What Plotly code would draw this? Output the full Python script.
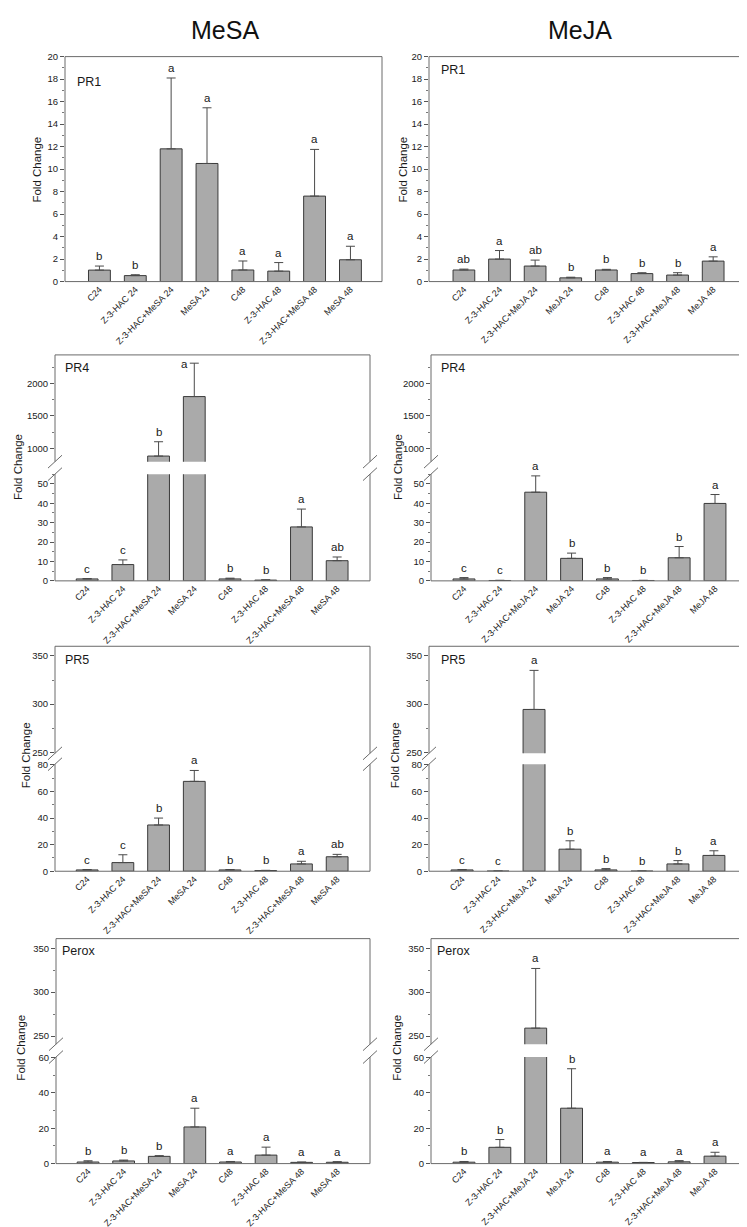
import plotly.graph_objects as go

W, H = 747, 1227
FONT = "Liberation Sans, Arial, sans-serif"

# ---------------- data ----------------
cats_mesa = ["C24", "Z-3-HAC 24", "Z-3-HAC+MeSA 24", "MeSA 24", "C48", "Z-3-HAC 48", "Z-3-HAC+MeSA 48", "MeSA 48"]
cats_meja = ["C24", "Z-3-HAC 24", "Z-3-HAC+MeJA 24", "MeJA 24", "C48", "Z-3-HAC 48", "Z-3-HAC+MeJA 48", "MeJA 48"]

pr1_mesa_mean = [1.02, 0.53, 11.8, 10.5, 1.03, 0.93, 7.6, 1.94]
pr1_mesa_err = [0.36, 0.08, 6.3, 4.95, 0.8, 0.76, 4.15, 1.2]
pr1_mesa_sig = ["b", "b", "a", "a", "a", "a", "a", "a"]

pr1_meja_mean = [1.03, 2.0, 1.38, 0.33, 1.03, 0.71, 0.58, 1.82]
pr1_meja_err = [0.08, 0.76, 0.53, 0.06, 0.06, 0.08, 0.21, 0.38]
pr1_meja_sig = ["ab", "a", "ab", "b", "b", "b", "b", "a"]

pr4_mesa_mean = [1.0, 8.4, 883, 1797, 1.0, 0.4, 27.8, 10.4]
pr4_mesa_err = [0.2, 2.4, 220, 513, 0.4, 0.15, 9.2, 1.9]
pr4_mesa_sig = ["c", "c", "b", "a", "b", "b", "a", "ab"]

pr4_meja_mean = [1.0, 0.2, 45.7, 11.6, 1.0, 0.2, 11.9, 39.9]
pr4_meja_err = [0.7, 0.1, 8.4, 2.7, 0.7, 0.1, 5.8, 4.6]
pr4_meja_sig = ["c", "c", "a", "b", "b", "b", "b", "a"]

pr5_mesa_mean = [1.0, 6.5, 34.8, 67.6, 1.0, 0.5, 5.5, 10.9]
pr5_mesa_err = [0.3, 5.9, 5.2, 8.2, 0.3, 0.2, 2.0, 1.8]
pr5_mesa_sig = ["c", "c", "b", "a", "b", "b", "a", "ab"]

pr5_meja_mean = [1.0, 0.1, 294.5, 16.6, 1.0, 0.1, 5.5, 11.9]
pr5_meja_err = [0.3, 0.05, 40.5, 6.3, 1.0, 0.05, 2.5, 3.5]
pr5_meja_sig = ["c", "c", "a", "b", "b", "b", "b", "a"]

perox_mesa_mean = [0.9, 1.5, 4.1, 20.7, 0.9, 4.8, 0.7, 0.75]
perox_mesa_err = [0.7, 0.5, 0.4, 10.6, 0.3, 4.5, 0.2, 0.35]
perox_mesa_sig = ["b", "b", "b", "a", "a", "a", "a", "a"]

perox_meja_mean = [0.8, 9.2, 259, 31.3, 0.8, 0.6, 1.0, 4.2]
perox_meja_err = [0.4, 4.4, 68, 22.3, 0.4, 0.1, 0.7, 2.2]
perox_meja_sig = ["b", "b", "a", "b", "a", "a", "a", "a"]

column_titles = ["MeSA", "MeJA"]
gene_labels = ["PR1", "PR4", "PR5", "Perox"]
y_title = "Fold Change"

# ---------------- layout (pixel geometry) ----------------
# box: (left, right, top, bottom); brk: (upper-bottom, lower-top)
panels = [
    dict(cats=cats_mesa, mean=pr1_mesa_mean, err=pr1_mesa_err, sig=pr1_mesa_sig, label=gene_labels[0],
         box=(57, 374, 43, 270), brk=None, lo=(0, 20, 2, 1), hi=None, lab=(67, 69), yt=(29, 157), xr=(-0.96, 7.88)),
    dict(cats=cats_meja, mean=pr1_meja_mean, err=pr1_meja_err, sig=pr1_meja_sig, label=gene_labels[0],
         box=(421, 739, 43, 270), brk=None, lo=(0, 20, 2, 1), hi=None, lab=(431, 57), yt=(395, 157), xr=(-0.98, 7.95)),
    dict(cats=cats_mesa, mean=pr4_mesa_mean, err=pr4_mesa_err, sig=pr4_mesa_sig, label=gene_labels[1],
         box=(47, 362, 344, 572), brk=(451.7, 464.3), lo=(0, 55, 10, 5), hi=(797, 2437, 500, 250), lab=(55, 357), yt=(10, 457), xr=(-0.9, 7.92)),
    dict(cats=cats_meja, mean=pr4_meja_mean, err=pr4_meja_err, sig=pr4_meja_sig, label=gene_labels[1],
         box=(423, 740, 344, 572), brk=(451.7, 464.3), lo=(0, 55, 10, 5), hi=(797, 2437, 500, 250), lab=(431, 357), yt=(390, 457), xr=(-0.92, 7.92)),
    dict(cats=cats_mesa, mean=pr5_mesa_mean, err=pr5_mesa_err, sig=pr5_mesa_sig, label=gene_labels[2],
         box=(47, 362, 638, 865), brk=(746, 757), lo=(0, 80.5, 20, 10), hi=(249, 360, 50, 25), lab=(55, 652), yt=(18, 748), xr=(-0.9, 7.92)),
    dict(cats=cats_meja, mean=pr5_meja_mean, err=pr5_meja_err, sig=pr5_meja_sig, label=gene_labels[2],
         box=(421, 739, 638, 865), brk=(746, 757), lo=(0, 80.5, 20, 10), hi=(249, 360, 50, 25), lab=(431, 652), yt=(387, 748), xr=(-0.92, 7.92)),
    dict(cats=cats_mesa, mean=perox_mesa_mean, err=perox_mesa_err, sig=perox_mesa_sig, label=gene_labels[3],
         box=(48, 362, 933, 1160), brk=(1039.5, 1052.5), lo=(0, 60.2, 20, 10), hi=(240.7, 361, 50, 25), lab=(52, 945), yt=(13, 1043), xr=(-0.9, 7.92)),
    dict(cats=cats_meja, mean=perox_meja_mean, err=perox_meja_err, sig=perox_meja_sig, label=gene_labels[3],
         box=(423, 740, 933, 1160), brk=(1039.5, 1052.5), lo=(0, 60.2, 20, 10), hi=(240.7, 361, 50, 25), lab=(427, 945), yt=(389, 1043), xr=(-0.92, 7.92)),
]

BAR_FILL = "#aaaaaa"
BAR_LINE = "#3a3a3a"
FRAME = "#6a6a6a"
TXT = "#1a1a1a"


def px(x):
    return x / W


def py(y):
    return 1 - y / H


fig = go.Figure()
layout = dict(width=W, height=H, margin=dict(l=0, r=0, t=0, b=0),
              paper_bgcolor="white", plot_bgcolor="white", showlegend=False,
              font=dict(family=FONT, color=TXT), bargap=0.39)
shapes, annotations = [], []


def yaxis_dict(dom, rng, dtick, mdtick, xname):
    return dict(domain=dom, range=list(rng), anchor=xname, showgrid=False, zeroline=False,
                showline=False, ticks="outside", ticklen=4, tickwidth=1, tickcolor="#555",
                tickmode="linear", tick0=0, dtick=dtick,
                minor=dict(ticks="outside", ticklen=2, tickcolor="#777", tickmode="linear", tick0=0, dtick=mdtick),
                tickfont=dict(size=9.5, family=FONT, color=TXT))


def line(x0, y0, x1, y1, color=FRAME, w=1):
    shapes.append(dict(type="line", xref="paper", yref="paper", x0=px(x0), y0=py(y0), x1=px(x1), y1=py(y1),
                       line=dict(color=color, width=w)))


yn = 0
for i, p in enumerate(panels):
    xi = i + 1
    xname = "x" if xi == 1 else f"x{xi}"
    xkey = "xaxis" if xi == 1 else f"xaxis{xi}"
    L, R, T, B = p["box"]

    segs = []  # (yname, range, domain_px_top, domain_px_bottom)
    yn += 1
    ylow = "y" if yn == 1 else f"y{yn}"
    lowkey = "yaxis" if yn == 1 else f"yaxis{yn}"
    lo_top = p["brk"][1] if p["brk"] else T
    layout[lowkey] = yaxis_dict([py(B), py(lo_top)], p["lo"][:2], p["lo"][2], p["lo"][3], xname)
    segs.append((ylow, p["lo"][:2], lo_top, B))
    if p["brk"]:
        yn += 1
        yup = f"y{yn}"
        layout[f"yaxis{yn}"] = yaxis_dict([py(p["brk"][0]), py(T)], p["hi"][:2], p["hi"][2], p["hi"][3], xname)
        segs.append((yup, p["hi"][:2], T, p["brk"][0]))

    layout[xkey] = dict(domain=[px(L), px(R)], anchor=ylow, type="category", categoryorder="array",
                        categoryarray=p["cats"], range=list(p["xr"]), showgrid=False, showline=False,
                        zeroline=False, ticks="", tickangle=-45, ticklabelstandoff=0,
                        tickfont=dict(size=9, family=FONT, color=TXT))

    for (yname, rng, _, _) in segs:
        fig.add_trace(go.Bar(
            x=p["cats"], y=p["mean"], width=0.61, xaxis=xname, yaxis=yname,
            marker=dict(color=BAR_FILL, line=dict(color=BAR_LINE, width=1)),
            error_y=dict(type="data", symmetric=False, array=p["err"], arrayminus=[0] * len(p["err"]),
                         color="#4a4a4a", thickness=1, width=4.5),
            hoverinfo="skip", showlegend=False))

    # significance letters
    for c, m, e, s in zip(p["cats"], p["mean"], p["err"], p["sig"]):
        top = m + e
        k = 0
        if len(segs) > 1 and top > segs[0][1][1]:
            k = 1
        yname, rng, dtop, dbot = segs[k]
        ppu = (dbot - dtop) / (rng[1] - rng[0])
        space = (rng[1] - top) * ppu
        if k == len(segs) - 1 and space < 14:
            annotations.append(dict(x=c, y=top, xref=xname, yref=yname, text=s, showarrow=False,
                                    xanchor="center", yanchor="middle", xshift=-10, yshift=-1,
                                    font=dict(size=11.5, family=FONT, color=TXT)))
        else:
            annotations.append(dict(x=c, y=top, xref=xname, yref=yname, text=s, showarrow=False,
                                    xanchor="center", yanchor="bottom", yshift=2,
                                    font=dict(size=11.5, family=FONT, color=TXT)))

    # frame
    line(L, T, R, T)
    line(L, B, R, B)
    if p["brk"]:
        ub, lt = p["brk"]
        for X in (L, R):
            line(X, T, X, ub)
            line(X, lt, X, B)
            line(X - 7, ub + 6.5, X + 7, ub - 6.5)
            line(X - 7, lt + 6.5, X + 7, lt - 6.5)
    else:
        line(L, T, L, B)
        line(R, T, R, B)

    # panel label
    annotations.append(dict(x=px(p["lab"][0]), y=py(p["lab"][1]), xref="paper", yref="paper", text=p["label"],
                            showarrow=False, xanchor="left", yanchor="middle",
                            font=dict(size=12.5, family=FONT, color=TXT)))
    # y title
    annotations.append(dict(x=px(p["yt"][0]), y=py(p["yt"][1]), xref="paper", yref="paper", text=y_title,
                            showarrow=False, xanchor="center", yanchor="middle", textangle=-90,
                            font=dict(size=11.5, family=FONT, color=TXT)))

# column titles
for t, xc in zip(column_titles, (217, 572)):
    annotations.append(dict(x=px(xc), y=py(16), xref="paper", yref="paper", text=t, showarrow=False,
                            xanchor="center", yanchor="middle", font=dict(size=25, family=FONT, color="#111")))

layout["shapes"] = shapes
layout["annotations"] = annotations
fig.update_layout(**layout)
fig.write_html("out.html")
